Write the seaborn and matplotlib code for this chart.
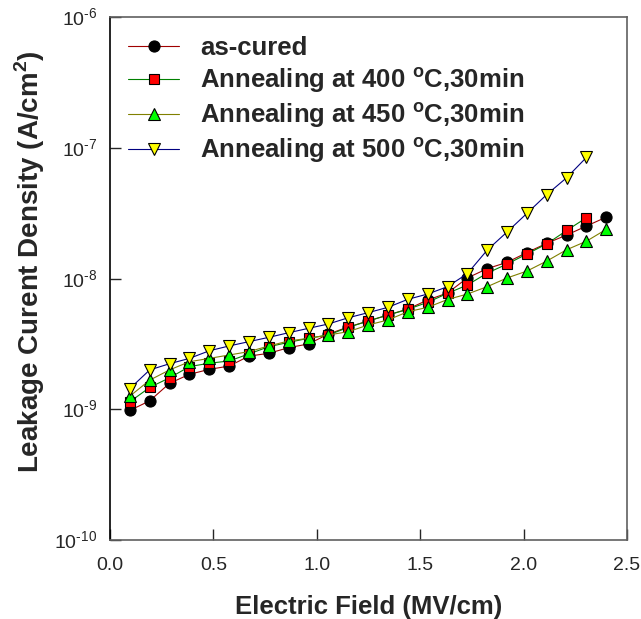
import numpy as np
import matplotlib
matplotlib.use("Agg")
import matplotlib.pyplot as plt
import seaborn as sns

# Electric field (MV/cm)
field = [0.096, 0.192, 0.288, 0.384, 0.480, 0.576, 0.672, 0.768, 0.864, 0.960,
         1.056, 1.152, 1.248, 1.344, 1.440, 1.536, 1.632, 1.728, 1.824, 1.920,
         2.016, 2.112, 2.208, 2.304, 2.400]

# Leakage current density (A/cm^2)
as_cured = [9.8e-10, 1.16e-9, 1.58e-9, 1.85e-9, 2.02e-9, 2.14e-9, 2.55e-9, 2.68e-9,
            2.96e-9, 3.16e-9, 3.76e-9, 4.26e-9, 4.73e-9, 5.26e-9, 5.84e-9, 6.85e-9,
            7.75e-9, 1.01e-8, 1.19e-8, 1.33e-8, 1.58e-8, 1.86e-8, 2.15e-8, 2.52e-8,
            2.95e-8]
anneal_400 = [1.14e-9, 1.47e-9, 1.74e-9, 2.12e-9, 2.25e-9, 2.34e-9, 2.65e-9, 3.01e-9,
              3.25e-9, 3.49e-9, 3.70e-9, 4.23e-9, 4.73e-9, 5.26e-9, 5.81e-9, 6.58e-9,
              7.70e-9, 8.92e-9, 1.10e-8, 1.29e-8, 1.54e-8, 1.84e-8, 2.33e-8, 2.92e-8]
anneal_450 = [1.26e-9, 1.67e-9, 2.00e-9, 2.31e-9, 2.45e-9, 2.60e-9, 2.76e-9, 3.05e-9,
              3.33e-9, 3.49e-9, 3.70e-9, 3.92e-9, 4.41e-9, 4.82e-9, 5.57e-9, 6.02e-9,
              6.91e-9, 7.61e-9, 8.66e-9, 1.01e-8, 1.14e-8, 1.36e-8, 1.66e-8, 1.93e-8,
              2.38e-8]
anneal_500 = [1.44e-9, 2.00e-9, 2.23e-9, 2.45e-9, 2.80e-9, 3.05e-9, 3.29e-9, 3.55e-9,
              3.85e-9, 4.16e-9, 4.49e-9, 5.01e-9, 5.48e-9, 6.02e-9, 6.93e-9, 7.61e-9,
              8.66e-9, 1.09e-8, 1.65e-8, 2.27e-8, 3.15e-8, 4.39e-8, 5.90e-8, 8.45e-8]

labels = ["as-cured",
          r"Annealing at 400 $^{\mathbf{o}}$C,30min",
          r"Annealing at 450 $^{\mathbf{o}}$C,30min",
          r"Annealing at 500 $^{\mathbf{o}}$C,30min"]

x_ticks = [0.0, 0.5, 1.0, 1.5, 2.0, 2.5]
x_tick_labels = ["0.0", "0.5", "1.0", "1.5", "2.0", "2.5"]
y_exponents = [-10, -9, -8, -7, -6]

sns.set_style("ticks")
plt.rcParams["font.family"] = ["Liberation Sans", "DejaVu Sans"]
plt.rcParams["mathtext.fontset"] = "custom"
plt.rcParams["mathtext.rm"] = "Liberation Sans"
plt.rcParams["mathtext.bf"] = "Liberation Sans:bold"

fig = plt.figure(figsize=(6.41, 6.19), dpi=100)
ax = fig.add_axes([0.1716, 0.1276, 0.8066, 0.8449])

series = [
    (as_cured, "#a00000", "o", "black", 8),
    (anneal_400, "#008000", "s", "#ff0000", 7.5),
    (anneal_450, "#808000", "^", "#00ff00", 9),
    (anneal_500, "#000080", "v", "#ffff00", 9),
]
for (vals, lc, mk, fc, ms), lab in zip(series, labels):
    sns.lineplot(x=field[:len(vals)], y=vals, ax=ax, color=lc, linewidth=0.8,
                 marker=mk, markerfacecolor=fc, markeredgecolor="black",
                 markeredgewidth=0.8, markersize=ms, label=lab)

ax.set_yscale("log")
ax.set_xlim(0.0, 2.5)
ax.set_ylim(1e-10, 1e-6)
ax.set_xticks(x_ticks)
ax.set_xticklabels(x_tick_labels)
ax.set_yticks([10.0 ** e for e in y_exponents])
ax.set_yticklabels([r"10$^{\text{%d}}$" % e for e in y_exponents])
ax.yaxis.set_minor_locator(matplotlib.ticker.NullLocator())
ax.tick_params(axis="both", which="major", direction="in", length=8, width=1,
               labelsize=14)
ax.tick_params(axis="x", pad=12)
ax.tick_params(axis="y", pad=9)

for side in ["top", "right", "bottom"]:
    ax.spines[side].set_color("#606060")
ax.spines["left"].set_color("black")
for sp in ax.spines.values():
    sp.set_linewidth(1.2)

ax.set_xlabel("Electric Field (MV/cm)", fontsize=18.5, fontweight="bold", labelpad=15)
ax.set_ylabel(r"Leakage Curent Density (A/cm$^{\mathbf{2}}$)", fontsize=20,
              fontweight="bold")
ax.yaxis.set_label_coords(-0.122, 0.532)

leg = ax.legend(loc="upper left", bbox_to_anchor=(0.035, 0.963), frameon=False,
                prop={"weight": "bold", "size": 18.5}, handlelength=2.0,
                handletextpad=0.8, labelspacing=0.2, borderpad=0,
                borderaxespad=0)

fig.savefig("out.png", dpi=100)
